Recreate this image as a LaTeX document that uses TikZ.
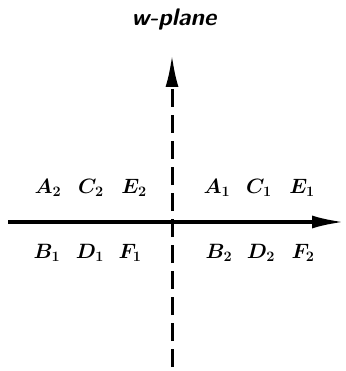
\documentclass[tikz,border=0pt]{standalone}
\usetikzlibrary{arrows.meta}
\begin{document}
\begin{tikzpicture}[x=1pt,y=-1pt,
  lbl/.style={font=\fontsize{22}{26}\selectfont\boldmath},
  axis/.style={line width=3.4pt,-{Latex[length=32pt,width=13pt]}}]
  \useasboundingbox (0,0) rectangle (345,371);
  \coordinate (xs) at (8,222);
  \coordinate (xe) at (344,222);
  \coordinate (ys) at (172,367);
  \coordinate (ye) at (172,55);
  \draw[axis] (xs)--(xe);
  \draw[line width=3pt,dash pattern=on 18pt off 8pt,-{Latex[length=32pt,width=13pt]}] (ys)--(ye);
  \node[font=\fontsize{24}{28}\selectfont\bfseries\sffamily\itshape] (title) at (174,20) {w-plane};
  \node[lbl] (a2) at (48,188) {$A_2$};
  \node[lbl] (c2) at (91,188) {$C_2$};
  \node[lbl] (e2) at (134,188) {$E_2$};
  \node[lbl] (a1) at (217,188) {$A_1$};
  \node[lbl] (c1) at (259,188) {$C_1$};
  \node[lbl] (e1) at (302,188) {$E_1$};
  \node[lbl] (b1) at (47,253) {$B_1$};
  \node[lbl] (d1) at (90,253) {$D_1$};
  \node[lbl] (f1) at (130,253) {$F_1$};
  \node[lbl] (b2) at (219,253) {$B_2$};
  \node[lbl] (d2) at (261,253) {$D_2$};
  \node[lbl] (f2) at (303,253) {$F_2$};
\end{tikzpicture}
\end{document}
